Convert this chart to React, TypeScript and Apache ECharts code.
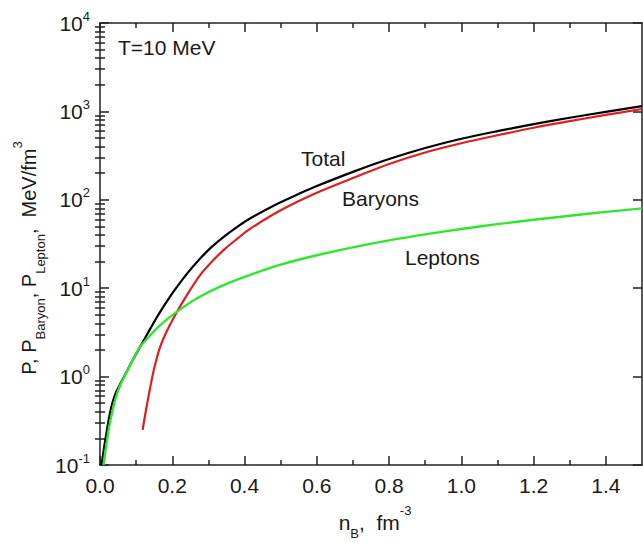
import React, { useEffect, useRef } from "react";
import * as echarts from "echarts";

// ---- data ----
const totalX = [0.0041, 0.0083, 0.0138, 0.0193, 0.0249, 0.0304, 0.0359, 0.0442, 0.0552, 0.0691, 0.0876, 0.11, 0.124, 0.138, 0.152, 0.166, 0.193, 0.212, 0.242, 0.276, 0.31, 0.345, 0.38, 0.414, 0.483, 0.552, 0.6, 0.7, 0.8, 0.9, 1.0, 1.1, 1.2, 1.3, 1.4, 1.5];
const totalP = [0.1, 0.13, 0.182, 0.249, 0.34, 0.436, 0.53, 0.661, 0.813, 1.04, 1.46, 2.14, 2.7, 3.42, 4.3, 5.37, 7.94, 10.2, 14.8, 21.4, 29.5, 38.9, 49.5, 61, 87, 117.5, 143, 207, 289, 385, 490, 598, 718, 848, 988, 1148];

const baryonX = [0.118, 0.125, 0.133, 0.14, 0.147, 0.156, 0.166, 0.18, 0.193, 0.212, 0.24, 0.276, 0.31, 0.345, 0.38, 0.414, 0.5, 0.6, 0.7, 0.8, 0.9, 1.0, 1.1, 1.2, 1.3, 1.4, 1.5];
const baryonP = [0.25, 0.37, 0.56, 0.79, 1.1, 1.55, 2.14, 2.95, 3.8, 5.3, 8.3, 13.9, 20, 27.7, 36.3, 46.5, 76, 120, 176, 254, 343, 436, 537, 653, 776, 912, 1064];

const leptonX = [0.0097, 0.0166, 0.0249, 0.0331, 0.0442, 0.0552, 0.0691, 0.0876, 0.11, 0.138, 0.166, 0.212, 0.276, 0.345, 0.414, 0.5, 0.6, 0.7, 0.8, 0.9, 1.0, 1.1, 1.2, 1.3, 1.4, 1.5];
const leptonP = [0.1, 0.16, 0.262, 0.387, 0.587, 0.783, 1.03, 1.46, 2.14, 2.9, 3.8, 5.4, 8.0, 11.0, 14.1, 18.5, 23.6, 29, 34.7, 40.6, 46.7, 53, 59.4, 66, 73, 80];

const xMajorTicks = [0, 0.2, 0.4, 0.6, 0.8, 1.0, 1.2, 1.4];
const xMinorTicks = [0.1, 0.3, 0.5, 0.7, 0.9, 1.1, 1.3];
const yDecades = [-1, 0, 1, 2, 3];
const yMinorMultipliers = [2, 3, 4, 5, 6, 7, 8, 9];

const FONT = "'Liberation Sans', Arial, sans-serif";
const AX = "#222";
const TXT = "#1a1a1a";

function zip(xs: number[], ys: number[]) {
  return xs.map((x, i) => [x, ys[i]]);
}

export default function App() {
  const ref = useRef<HTMLDivElement>(null);
  useEffect(() => {
    if (!ref.current) return;
    const chart = echarts.init(ref.current, null, { renderer: "svg" });

    const yMinorPos: number[] = [];
    yDecades.forEach((d) => yMinorMultipliers.forEach((m) => yMinorPos.push(d + Math.log10(m))));

    const lineStyle = { color: AX, width: 1.5 };
    const mkX = (pos: string, major: boolean, labels: boolean) => ({
      type: "value",
      position: pos,
      min: 0,
      max: 1.5,
      axisLine: { show: major, onZero: false, lineStyle },
      axisTick: { show: true, inside: true, length: major ? 9 : 5, customValues: major ? xMajorTicks : xMinorTicks, lineStyle },
      axisLabel: labels
        ? { show: true, customValues: xMajorTicks, formatter: (v: number) => v.toFixed(1), fontSize: 21, color: TXT, fontFamily: FONT, margin: 10 }
        : { show: false },
      splitLine: { show: false },
    });
    const mkYMajor = (pos: string, labels: boolean) => ({
      type: "log",
      logBase: 10,
      position: pos,
      min: 0.1,
      max: 10000,
      axisLine: { show: true, onZero: false, lineStyle },
      axisTick: { show: true, inside: true, length: 9, lineStyle },
      axisLabel: labels
        ? {
            show: true,
            margin: 10,
            formatter: (v: number) => `{b|10}{s|${Math.round(Math.log10(v))}}`,
            rich: {
              b: { fontSize: 21, fontFamily: FONT, color: TXT, lineHeight: 27 },
              s: { fontSize: 13, fontFamily: FONT, color: TXT, lineHeight: 13, verticalAlign: "top" },
            },
          }
        : { show: false },
      splitLine: { show: false },
      minorTick: { show: false },
    });
    const mkYMinor = (pos: string) => ({
      type: "value",
      position: pos,
      min: -1,
      max: 4,
      axisLine: { show: false },
      axisTick: { show: true, inside: true, length: 5, customValues: yMinorPos, lineStyle },
      axisLabel: { show: false },
      splitLine: { show: false },
    });

    const lineCommon = { type: "line", xAxisIndex: 0, yAxisIndex: 0, symbol: "none", smooth: 0.3 };

    const option: any = {
      animation: false,
      backgroundColor: "#ffffff",
      grid: { left: 100, right: 1, top: 23, bottom: 85 },
      xAxis: [mkX("bottom", true, true), mkX("bottom", false, false), mkX("top", true, false), mkX("top", false, false)],
      yAxis: [mkYMajor("left", true), mkYMinor("left"), mkYMajor("right", false), mkYMinor("right")],
      series: [
        { ...lineCommon, name: "Total", data: zip(totalX, totalP), lineStyle: { color: "#000000", width: 2.2 }, z: 3 },
        { ...lineCommon, name: "Baryons", data: zip(baryonX, baryonP), lineStyle: { color: "#e01e1e", width: 2.2 }, z: 4 },
        { ...lineCommon, name: "Leptons", data: zip(leptonX, leptonP), lineStyle: { color: "#2fe62f", width: 2.4 }, z: 5 },
      ],
      graphic: [
        { type: "text", x: 118, y: 47, style: { text: "T=10 MeV", font: `21px ${FONT}`, fill: TXT, align: "left", verticalAlign: "middle" } },
        { type: "text", x: 301, y: 158, style: { text: "Total", font: `21px ${FONT}`, fill: TXT, align: "left", verticalAlign: "middle" } },
        { type: "text", x: 342, y: 198, style: { text: "Baryons", font: `21px ${FONT}`, fill: TXT, align: "left", verticalAlign: "middle" } },
        { type: "text", x: 405, y: 257, style: { text: "Leptons", font: `21px ${FONT}`, fill: TXT, align: "left", verticalAlign: "middle" } },
        {
          type: "text",
          x: 375,
          y: 522,
          style: {
            text: "{m|n}{sub|B}{m|,  fm}{sup|-3}",
            align: "center",
            verticalAlign: "middle",
            rich: {
              m: { fontSize: 21, fontFamily: FONT, fill: TXT, lineHeight: 36 },
              sub: { fontSize: 13, fontFamily: FONT, fill: TXT, lineHeight: 22, verticalAlign: "bottom" },
              sup: { fontSize: 13, fontFamily: FONT, fill: TXT, lineHeight: 13, verticalAlign: "top" },
            },
          },
        },
        {
          type: "text",
          x: 29,
          y: 258,
          rotation: Math.PI / 2,
          style: {
            text: "{m|P, P}{sub|Baryon}{m|, P}{sub|Lepton}{m|,  MeV/fm}{sup|3}",
            align: "center",
            verticalAlign: "middle",
            rich: {
              m: { fontSize: 20, fontFamily: FONT, fill: TXT, lineHeight: 36 },
              sub: { fontSize: 13, fontFamily: FONT, fill: TXT, lineHeight: 22, verticalAlign: "bottom" },
              sup: { fontSize: 13, fontFamily: FONT, fill: TXT, lineHeight: 13, verticalAlign: "top" },
            },
          },
        },
      ],
    };
    chart.setOption(option);
    return () => chart.dispose();
  }, []);
  return <div ref={ref} style={{ width: 643, height: 550, position: "absolute", left: 0, top: 0 }} />;
}
